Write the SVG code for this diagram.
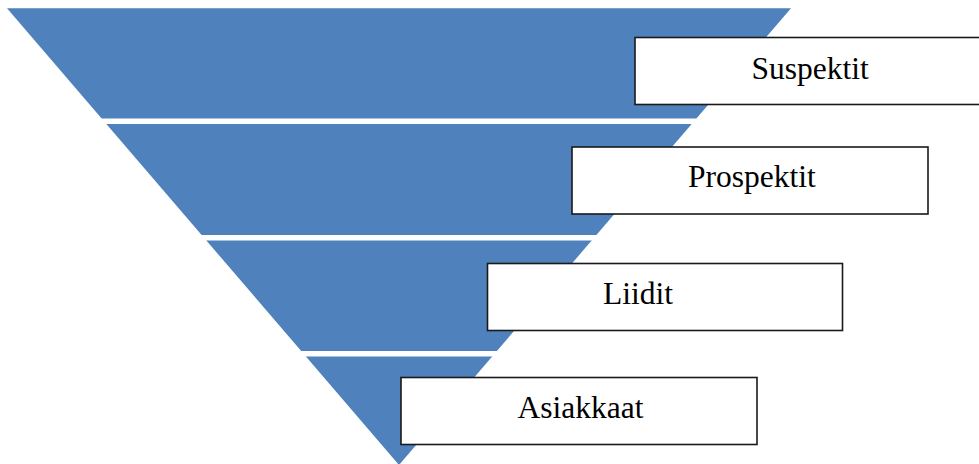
<svg xmlns="http://www.w3.org/2000/svg" width="979" height="464" viewBox="0 0 979 464">
<style>
.band{fill:#4F81BD;}
.gap{fill:#FFFFFF;}
.box{fill:#FFFFFF;stroke:#1a1a1a;stroke-width:1.6;}
.lbl{font-family:'Liberation Serif','Times New Roman',Times,serif;font-size:31.5px;fill:#000000;}
</style>
<rect width="979" height="464" fill="#FFFFFF"/>
<g id="funnel">
<polygon class="band" points="7,8.2 791,8.2 399,465"/>
<rect class="gap" x="0" y="118.5" width="979" height="5.5"/>
<rect class="gap" x="0" y="235" width="979" height="5.5"/>
<rect class="gap" x="0" y="351" width="979" height="5.5"/>
</g>
<g id="suspektit">
<rect class="box" x="635" y="37.5" width="356" height="67"/>
<text class="lbl" font-family="Liberation Serif, serif" x="751.5" y="78.5">Suspektit</text>
</g>
<g id="prospektit">
<rect class="box" x="572" y="147" width="356" height="67"/>
<text class="lbl" font-family="Liberation Serif, serif" x="688" y="186.5">Prospektit</text>
</g>
<g id="liidit">
<rect class="box" x="487.5" y="263.5" width="355" height="67"/>
<text class="lbl" font-family="Liberation Serif, serif" x="603" y="304">Liidit</text>
</g>
<g id="asiakkaat">
<rect class="box" x="401" y="377.5" width="356" height="67"/>
<text class="lbl" font-family="Liberation Serif, serif" x="517.5" y="417.5">Asiakkaat</text>
</g>
<g id="connectors"></g>
</svg>
